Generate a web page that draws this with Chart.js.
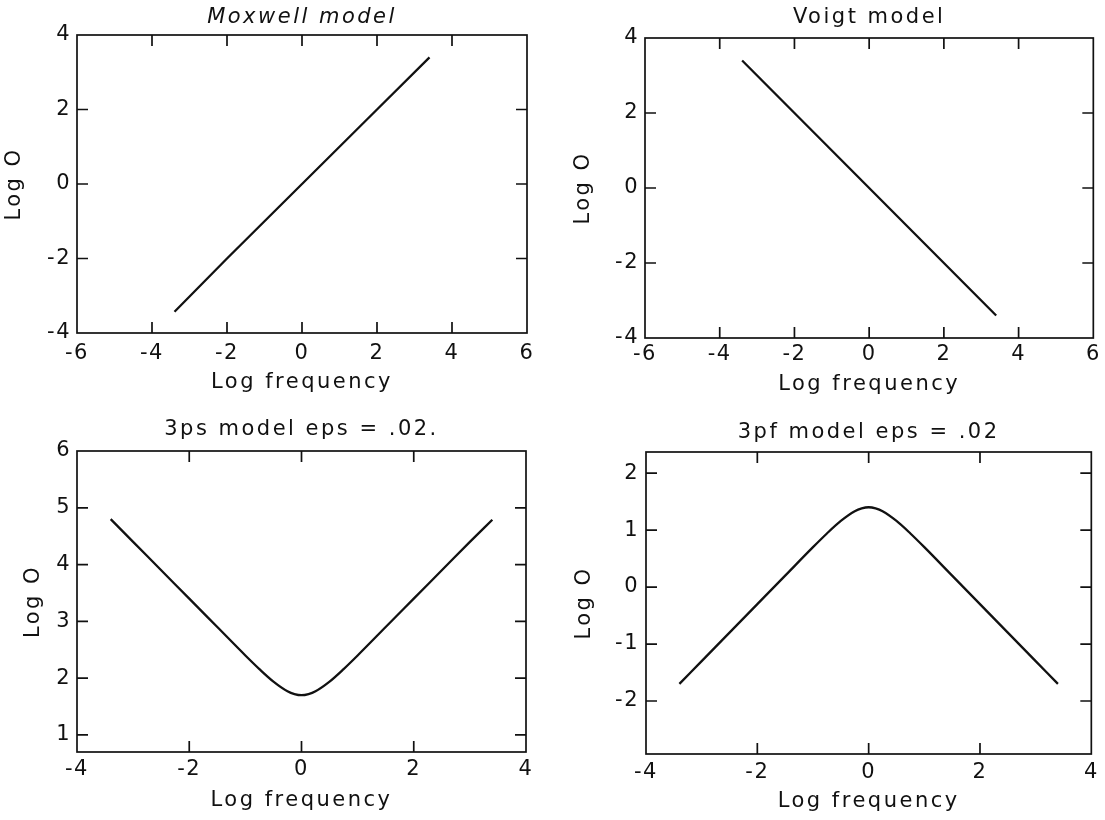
<!DOCTYPE html>
<html>
<head>
<meta charset="utf-8">
<script src="https://cdn.jsdelivr.net/npm/chart.js@4.4.1/dist/chart.umd.min.js"></script>
<style>
html,body{margin:0;padding:0;background:#fff;}
#wrap{position:relative;width:1105px;height:820px;overflow:hidden;background:#fff;}
#wrap canvas{position:absolute;}
</style>
</head>
<body>
<div id="wrap">
  <canvas id="c1" width="552" height="410" style="left:0px;top:0px;width:552px;height:410px"></canvas>
  <canvas id="c2" width="553" height="410" style="left:552px;top:0px;width:553px;height:410px"></canvas>
  <canvas id="c3" width="552" height="410" style="left:0px;top:410px;width:552px;height:410px"></canvas>
  <canvas id="c4" width="553" height="410" style="left:552px;top:410px;width:553px;height:410px"></canvas>
</div>
<script>
// ---------- data ----------
const panelTitles = ['Moxwell model', 'Voigt model', '3ps model eps = .02.', '3pf model eps = .02'];
const xAxisTitle = 'Log frequency';
const yAxisTitle = 'Log O';

const maxwellX = [-3.4, -2, 0, 2, 3.4];
const maxwellY = [-3.43, -2, 0, 2, 3.4];

const voigtX = [-3.4, -2, 0, 2, 3.4];
const voigtY = [3.4, 2, 0, -2, -3.4];

const qX  = [-3.4, -3, -2.5, -2, -1.5, -1, -0.75, -0.5, -0.25, -0.125, 0, 0.125, 0.25, 0.5, 0.75, 1, 1.5, 2, 2.5, 3, 3.4];
const psY = [4.80, 4.40, 3.90, 3.40, 2.90, 2.40, 2.16, 1.94, 1.77, 1.72, 1.70, 1.72, 1.77, 1.94, 2.16, 2.40, 2.90, 3.40, 3.90, 4.40, 4.79];
const pfY = [-1.70, -1.30, -0.80, -0.30, 0.20, 0.70, 0.94, 1.16, 1.33, 1.38, 1.40, 1.38, 1.33, 1.16, 0.94, 0.70, 0.20, -0.30, -0.80, -1.30, -1.70];

const xTicksTop = [-6, -4, -2, 0, 2, 4, 6];
const yTicksTop = [-4, -2, 0, 2, 4];
const xTicksBottom = [-4, -2, 0, 2, 4];
const yTicks3ps = [1, 2, 3, 4, 5, 6];
const yTicks3pf = [-2, -1, 0, 1, 2];

// ---------- drawing ----------
const INK = '#111';
const FAMILY = '"DejaVu Sans", "Liberation Sans", sans-serif';

const framePlugin = {
  id: 'frameTicks',
  beforeDraw(chart) {
    chart.ctx.letterSpacing = '2.5px';   // titles and axis titles
  },
  afterDatasetsDraw(chart) {
    chart.ctx.letterSpacing = '1.5px';   // tick labels (drawn in a later layer)
  },
  afterDraw(chart) {
    const {ctx, chartArea: a, scales} = chart;
    const x = scales.x, y = scales.y;
    const L = 11;
    ctx.save();
    ctx.strokeStyle = INK;
    ctx.lineWidth = 1.7;
    ctx.strokeRect(a.left, a.top, a.right - a.left, a.bottom - a.top);
    ctx.beginPath();
    x.ticks.forEach(t => {
      if (t.value <= x.min || t.value >= x.max) return;
      const px = x.getPixelForValue(t.value);
      ctx.moveTo(px, a.bottom); ctx.lineTo(px, a.bottom - L);
      ctx.moveTo(px, a.top); ctx.lineTo(px, a.top + L);
    });
    y.ticks.forEach(t => {
      if (t.value <= y.min || t.value >= y.max) return;
      const py = y.getPixelForValue(t.value);
      ctx.moveTo(a.left, py); ctx.lineTo(a.left + L, py);
      ctx.moveTo(a.right, py); ctx.lineTo(a.right - L, py);
    });
    ctx.stroke();
    ctx.restore();
    ctx.letterSpacing = '0px';
  }
};

function toPoints(xs, ys) {
  return xs.map((v, i) => ({x: v, y: ys[i]}));
}

function makePanel(id, p) {
  const font = {family: FAMILY, size: 21, weight: 'normal', lineHeight: '24px'};
  return new Chart(document.getElementById(id), {
    type: 'line',
    data: {
      datasets: [{
        data: toPoints(p.xs, p.ys),
        borderColor: INK,
        borderWidth: 2.3,
        pointRadius: 0,
        fill: false,
        cubicInterpolationMode: p.smooth ? 'monotone' : 'default',
        tension: 0
      }]
    },
    options: {
      responsive: false,
      animation: false,
      devicePixelRatio: 1,
      layout: {autoPadding: false, padding: {left: 0, top: 0, right: p.padRight, bottom: 0}},
      plugins: {
        legend: {display: false},
        tooltip: {enabled: false},
        title: {
          display: true,
          text: p.title,
          fullSize: false,
          color: INK,
          font: Object.assign({}, font, {style: p.italic ? 'italic' : 'normal'}),
          padding: {top: p.tpt, bottom: p.tpb}
        }
      },
      scales: {
        x: {
          type: 'linear',
          min: p.xmin, max: p.xmax,
          afterFit: s => { s.height = p.xh; },
          afterBuildTicks: s => { s.ticks = p.xTicks.map(v => ({value: v})); },
          grid: {display: false, drawTicks: false},
          border: {display: false},
          ticks: {z: 1, color: INK, font: font, padding: p.xtp, maxRotation: 0, autoSkip: false},
          title: {display: true, text: xAxisTitle, color: INK, font: font, padding: {top: 0, bottom: p.xtpb}}
        },
        y: {
          type: 'linear',
          min: p.ymin, max: p.ymax,
          afterFit: s => { s.width = p.yw; },
          afterBuildTicks: s => { s.ticks = p.yTicks.map(v => ({value: v})); },
          grid: {display: false, drawTicks: false},
          border: {display: false},
          ticks: {z: 1, color: INK, font: font, padding: p.ytp, autoSkip: false},
          title: {display: true, text: yAxisTitle, color: INK, font: font, padding: {top: p.ytpt, bottom: 0}}
        }
      }
    },
    plugins: [framePlugin]
  });
}

makePanel('c1', {
  title: panelTitles[0], italic: true, xs: maxwellX, ys: maxwellY, smooth: false,
  xmin: -6, xmax: 6, ymin: -4, ymax: 4, xTicks: xTicksTop, yTicks: yTicksTop,
  padRight: 25, yw: 77, xh: 77, tpt: 6, tpb: 5, xtp: 9, xtpb: 15, ytp: 6, ytpt: 3
});
makePanel('c2', {
  title: panelTitles[1], italic: false, xs: voigtX, ys: voigtY, smooth: false,
  xmin: -6, xmax: 6, ymin: -4, ymax: 4, xTicks: xTicksTop, yTicks: yTicksTop,
  padRight: 7, yw: 93, xh: 72, tpt: 6, tpb: 8, xtp: 5, xtpb: 13, ytp: 6, ytpt: 20
});
makePanel('c3', {
  title: panelTitles[2], italic: false, xs: qX, ys: psY, smooth: true,
  xmin: -4, xmax: 4, ymin: 0.7, ymax: 6, xTicks: xTicksBottom, yTicks: yTicks3ps,
  padRight: 26, yw: 77, xh: 68, tpt: 8, tpb: 9, xtp: 6, xtpb: 7, ytp: 6, ytpt: 22
});
makePanel('c4', {
  title: panelTitles[3], italic: false, xs: qX, ys: pfY, smooth: true,
  xmin: -4, xmax: 4, ymin: -2.93, ymax: 2.37, xTicks: xTicksBottom, yTicks: yTicks3pf,
  padRight: 7, yw: 94, xh: 66, tpt: 11, tpb: 7, xtp: 7, xtpb: 6, ytp: 7, ytpt: 21
});
</script>
</body>
</html>
